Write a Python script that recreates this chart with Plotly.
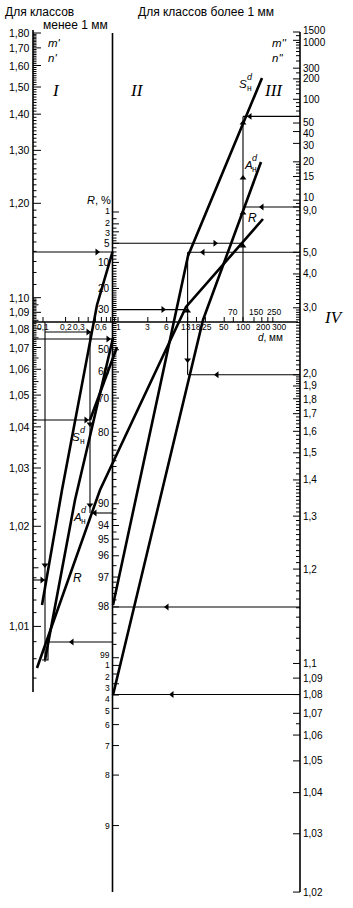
import numpy as np
import plotly.graph_objects as go

W, H = 353, 908

# ---------------- data: scale values ----------------
I_ticks = [1.80, 1.70, 1.60, 1.50, 1.40, 1.30, 1.20, 1.10, 1.09, 1.08, 1.07, 1.06, 1.05, 1.04, 1.03, 1.02, 1.01]
I_labels = ["1,80", "1,70", "1,60", "1,50", "1,40", "1,30", "1,20", "1,10", "1,09", "1,08", "1,07",
            "1,06", "1,05", "1,04", "1,03", "1,02", "1,01"]
IV_ticks = [1500, 1000, 300, 200, 100, 50, 40, 30, 20, 15, 10, 9, 5, 4, 3, 2, 1.9, 1.8, 1.7, 1.6, 1.5,
            1.4, 1.3, 1.2, 1.1, 1.09, 1.08, 1.07, 1.06, 1.05, 1.04, 1.03, 1.02]
IV_labels = ["1500", "1000", "300", "200", "100", "50", "40", "30", "20", "15", "10", "9,0", "5,0", "4,0",
             "3,0", "2,0", "1,9", "1,8", "1,7", "1,6", "1,5", "1,4", "1,3", "1,2", "1,1", "1,09", "1,08",
             "1,07", "1,06", "1,05", "1,04", "1,03", "1,02"]
R_ticks = [1, 2, 3, 5, 10, 20, 30, 50, 60, 70, 80, 92, 94, 95, 96, 97, 98, 99,
           99.1, 99.2, 99.3, 99.4, 99.5, 99.6, 99.7, 99.8, 99.9]
R_labels = ["1", "2", "3", "5", "10", "20", "30", "50", "60", "70", "80", "90", "94", "95", "96", "97",
            "98", "99", "1", "2", "3", "4", "5", "6", "7", "8", "9"]
d_fine = [0.1, 0.2, 0.3, 0.6]
d_fine_labels = ["0,1", "0,2", "0,3", "0,6"]
d_below = [1, 3, 6, 13, 18, 25, 50, 100, 200, 300]
d_above = [70, 150, 250]

# nomogram curves (chart units)
S_right = [(262, 78), (188, 256), (113, 605)]
A_right = [(261, 162), (203, 320), (113, 695)]
R_curve = [(263, 219), (186, 307), (100, 490), (37, 668)]
S_left = [(112.5, 252), (97, 305), (62, 490), (42, 605)]
A_left = [(113, 338), (75, 500), (45, 660)]
C_left = [(117, 347), (90, 420)]

# ---------------- scale functions ----------------
def yI(m):
    return 33 + 335 * (-0.23078 - np.log10(np.log(m)))

def yIV(m):
    return 32 + 335 * (0.8641 - np.log10(np.log(m)))

def yR(r):
    return 212 + 167.5 * (0.6632 - np.log10(np.log(100.0 / r)))

def xd(d):
    return 43 + 75 * np.log10(d / 0.1) if d <= 1 else 118 + 62.5 * np.log10(d)

XI, XII, XIV, YD = 33, 112.5, 300, 322

fig = go.Figure()
FONT_W = "Liberation Sans, Arial, sans-serif"


def seg_trace(segs, width, color="black"):
    xs, ys = [], []
    for s in segs:
        for p in s:
            xs.append(p[0]); ys.append(p[1])
        xs.append(None); ys.append(None)
    fig.add_trace(go.Scatter(x=xs, y=ys, mode="lines", line=dict(color=color, width=width),
                             hoverinfo="skip", showlegend=False))


def arrows(pts, symbol):
    fig.add_trace(go.Scatter(x=[p[0] for p in pts], y=[p[1] for p in pts], mode="markers",
                             marker=dict(symbol=symbol, size=6, color="black", line=dict(width=0)),
                             hoverinfo="skip", showlegend=False))


def text(x, y, s, size=10.5, xanchor="center", yanchor="middle", family=FONT_W):
    fig.add_annotation(x=x, y=y, text=s, showarrow=False, xanchor=xanchor, yanchor=yanchor,
                       font=dict(family=family, size=size, color="black"), xref="x", yref="y",
                       borderpad=0)


# ---------------- axes lines ----------------
seg_trace([[(XI, 30), (XI, 692)], [(XII, 33), (XII, 892)], [(XIV, 32), (XIV, 892)],
           [(XI, YD), (XIV - 2, YD)]], 1.6)

# ---------------- ticks ----------------
tk = []
minorI = list(np.round(np.arange(1.10, 1.80, 0.01), 3)) + list(np.round(np.arange(1.007, 1.10, 0.001), 4))
for v in minorI:
    if any(abs(v - t) < 1e-6 for t in I_ticks):
        continue
    ln = 5.5 if (v < 1.1 and abs(round(v * 1000) % 5) == 0) else 3.5
    tk.append([(XI, yI(v)), (XI + ln, yI(v))])
for v in I_ticks:
    tk.append([(XI, yI(v)), (XI + 8, yI(v))])
minorIV = [1250, 400, 500, 600, 700, 800, 900, 250, 120, 140, 160, 180, 60, 70, 80, 90,
           11, 12, 13, 14, 16, 17, 18, 19, 9.5, 8.5, 8, 7.5, 7, 6.5, 6, 5.5, 4.8, 4.6, 4.4, 4.2]
minorIV += list(np.round(np.arange(3.1, 4.0, 0.1), 2)) + list(np.round(np.arange(2.05, 3.0, 0.05), 3))
minorIV += list(np.round(np.arange(1.42, 2.0, 0.02), 3)) + list(np.round(np.arange(1.11, 1.40, 0.01), 3))
minorIV += [1.065]
for v in minorIV:
    if any(abs(v - t) < 1e-6 for t in IV_ticks):
        continue
    tk.append([(XIV, yIV(v)), (XIV - 4, yIV(v))])
for v in IV_ticks:
    tk.append([(XIV, yIV(v)), (XIV - 7, yIV(v))])
minorR = [1.5, 2.5, 3.5, 4, 4.5, 6, 7, 8, 9] + list(range(11, 92)) + [92.5, 93, 93.5, 94.5, 95.5, 96.5]
minorR += list(np.round(np.arange(97.2, 99.0, 0.2), 2))
for v in minorR:
    if any(abs(v - t) < 1e-6 for t in R_ticks):
        continue
    tk.append([(XII, yR(v)), (XII + 4, yR(v))])
for v in R_ticks:
    tk.append([(XII, yR(v)), (XII + 6.5, yR(v))])
for v in [0.1, 0.2, 0.3, 0.4, 0.5, 0.6, 0.7, 0.8, 0.9, 1, 3, 6, 13, 18, 25, 50, 70, 100, 150, 200, 250, 300]:
    tk.append([(xd(v), YD), (xd(v), YD - 5)])
seg_trace(tk, 1.0)

# ---------------- tick labels ----------------
IV_dy = {"1500": -2, "1000": 2, "50": -1, "40": 2, "30": 2, "10": -3, "9,0": 4, "2,0": -1, "1,8": 1}
for v, s in zip(IV_ticks, IV_labels):
    text(302, yIV(v) + IV_dy.get(s, 0), s, xanchor="left", size=10)
for v, s in zip(I_ticks, I_labels):
    text(31, yI(v), s, xanchor="right", size=10.5)
R_dy = {1: -1, 2: -1, 3: 1.5, 99: -3, 99.1: 0, 99.2: 3, 99.3: 4, 99.4: 4, 99.5: 3}
for v, s in zip(R_ticks, R_labels):
    sz = 9 if v < 5 else (8.5 if v >= 99 else 10)
    text(111, yR(v) + R_dy.get(v, 0), s, xanchor="right", size=sz)
for v, s in zip(d_fine, d_fine_labels):
    text(xd(v), YD + 5, s, size=8.5)
d_dx = {13: -2, 25: 2, 200: 1, 300: 6}
for v in d_below:
    text(xd(v) + d_dx.get(v, 0), YD + 5, str(v), size=8.5)
for v, dx in zip(d_above, [0, 2, 6]):
    text(xd(v) + dx, YD - 10, str(v), size=8.5)
text(270, YD + 15, "<i>d</i>, мм", size=10)
text(99, 200, "<i>R</i>, %", size=11)

# ---------------- titles and axis names ----------------
text(4, 12, "Для классов", size=12, xanchor="left")
text(42, 25, "менее 1 мм", size=12, xanchor="left")
text(137, 12, "Для классов более 1 мм", size=12, xanchor="left")
text(47, 43, "<i>m'</i>", size=11.5, xanchor="left")
text(47, 58, "<i>n'</i>", size=11.5, xanchor="left")
text(271, 43, "<i>m''</i>", size=11.5, xanchor="left")
text(271, 58, "<i>n''</i>", size=11.5, xanchor="left")
SERIF = "Liberation Serif, Times New Roman, serif"
text(56, 90, "<i>I</i>", size=17, family=SERIF)
text(137, 90, "<i>II</i>", size=17, family=SERIF)
text(273, 90, "<i>III</i>", size=17, family=SERIF)
text(334, 317, "<i>IV</i>", size=17, family=SERIF)


def sym_label(x, y, base):
    text(x, y, "<i>" + base + "</i>", size=11.5)
    text(x + 7, y - 7, "<i>d</i>", size=9)
    text(x + 6.5, y + 4, "н", size=8.5)


sym_label(243, 84, "S")
sym_label(248, 165, "A")
sym_label(76, 437, "S")
sym_label(77, 517, "A")
text(252, 218, "<i>R</i>", size=12)
text(77, 578, "<i>R</i>", size=12)

# ---------------- nomogram curves ----------------
seg_trace([S_right, A_right, R_curve, S_left, A_left, C_left], 2.6)

# ---------------- construction lines ----------------
x100, x13 = xd(100), xd(13)
thin = [
    [(XIV, yIV(60)), (x100, yIV(60))],
    [(x100, YD), (x100, yIV(60))],
    [(XII, yR(5)), (x100, yR(5))],
    [(XIV, yIV(9)), (x100, yIV(9))],
    [(XIV, yIV(5)), (x13, yIV(5))],
    [(x13, yIV(5)), (x13, yIV(2))],
    [(XII, yR(30)), (x13, yR(30))],
    [(XIV, yIV(2)), (x13, yIV(2))],
    [(XIV, yR(98)), (XII, yR(98))],
    [(XIV, yIV(1.08)), (XII, yIV(1.08))],
    [(XI, 252), (XII, 252)],
    [(XI, 339), (XII, 339)],
    [(45, 332), (92, 332)],
    [(XI, 420), (90, 420)],
    [(XI, 580), (45, 580)],
    [(XII, 642), (48, 642)],
    [(48, 642), (48, 660), (42, 660)],
    [(XII, 513), (92, 513)],
    [(45, YD), (45, 662)],
    [(90, 332), (90, 513)],
]
seg_trace(thin, 1.1)

arrows([(250, yIV(60)), (262, yIV(9)), (203, yIV(5)), (217, yIV(2)), (167, yR(98)), (172, yIV(1.08)),
        (72, 642), (95, 513)], "triangle-left")
arrows([(215, yR(5)), (163, yR(30)), (97, 252), (108, 339), (88, 332), (86, 420), (42, 580)],
       "triangle-right")
arrows([(x100, 246), (x100, 213), (x100, 178), (x100, 123), (x13, 311)], "triangle-up")
arrows([(x13, 360), (45, 565), (90, 424), (90, 505)], "triangle-down")

fig.update_layout(
    width=W, height=H, margin=dict(l=0, r=0, t=0, b=0),
    paper_bgcolor="white", plot_bgcolor="white",
    xaxis=dict(range=[0, W], visible=False, fixedrange=True),
    yaxis=dict(range=[H, 0], visible=False, fixedrange=True),
    showlegend=False,
)
fig.write_html("out.html")
